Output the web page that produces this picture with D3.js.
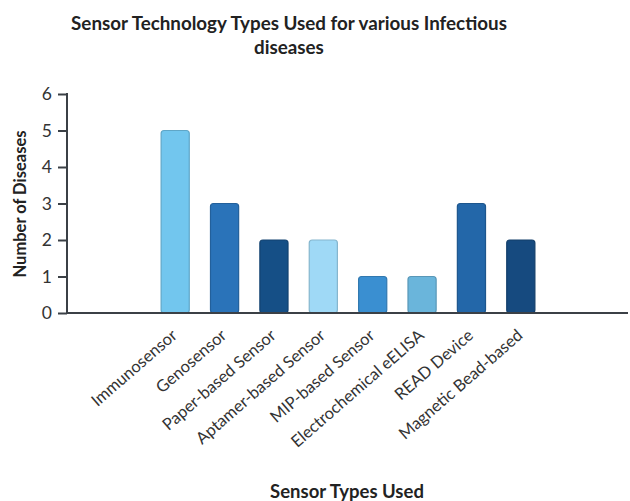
<!DOCTYPE html>
<html><head><meta charset="utf-8">
<script src="https://cdn.jsdelivr.net/npm/d3@7"></script>
<style>body{margin:0;background:#fff}svg{display:block}text{font-family:Lato,"Open Sans",sans-serif}</style>
</head><body><svg id="c" width="630" height="501"></svg>
<script>
const categories = ["Immunosensor","Genosensor","Paper-based Sensor","Aptamer-based Sensor","MIP-based Sensor","Electrochemical eELISA","READ Device","Magnetic Bead-based"];
const values = [5,3,2,2,1,1,3,2];
const colors = ["#72c6ee","#2a73b9","#154f86","#9fd9f6","#3a8fd1","#6ab5db","#2367a9","#164a7f"];
const yTicks = [0,1,2,3,4,5,6];
const titleLines = ["Sensor Technology Types Used for various Infectious","diseases"];
const xTitle = "Sensor Types Used", yTitle = "Number of Diseases";

const svg = d3.select("#c");
const axisColor = "#3b4046";
const y = d3.scaleLinear().domain([0,6]).range([313,94]);
const x = d3.scaleBand().domain(categories).range([150.5,545.5]).paddingInner(0.43).paddingOuter(0.215);

// bars
svg.append("g").selectAll("rect").data(categories).join("rect")
  .attr("x", d=>x(d)).attr("width", x.bandwidth())
  .attr("y", (d,i)=>y(values[i])).attr("height",(d,i)=>y(0)-y(values[i]))
  .attr("rx",3).attr("fill",(d,i)=>colors[i])
  .attr("stroke",(d,i)=>d3.color(colors[i]).darker(0.5)).attr("stroke-width",1.2);

// y axis
const ya = svg.append("g").attr("transform","translate(67,0)")
  .call(d3.axisLeft(y).tickValues(yTicks).tickSize(9).tickPadding(6).tickFormat(d3.format("d")));
ya.select(".domain").attr("stroke",axisColor).attr("stroke-width",2).attr("d","M0,93V313");
ya.selectAll(".tick line").attr("stroke",axisColor).attr("stroke-width",2);
ya.selectAll(".tick text").attr("fill","#333").style("font-size","17.5px").style("font-family","Lato");

// x axis line
svg.append("line").attr("x1",66).attr("x2",628).attr("y1",y(0)).attr("y2",y(0))
  .attr("stroke",axisColor).attr("stroke-width",2);

// x labels
svg.append("g").selectAll("text").data(categories).join("text")
  .attr("transform", d=>`translate(${x(d)+x.bandwidth()/2+3},${y(0)+24}) rotate(-41)`)
  .attr("text-anchor","end")
  .attr("fill","#333").style("font-size","16.5px").text(d=>d);

// titles
svg.append("text").attr("x",289).attr("text-anchor","middle").attr("fill","#222")
  .style("font-size","18.8px").style("font-weight","bold")
  .selectAll("tspan").data(titleLines).join("tspan")
  .attr("x",289).attr("y",(d,i)=>30+i*24).text(d=>d);
svg.append("text").attr("x",347).attr("y",498).attr("text-anchor","middle")
  .attr("fill","#222").style("font-size","18.5px").style("font-weight","bold").text(xTitle);
svg.append("text").attr("transform","translate(26,204) rotate(-90)").attr("text-anchor","middle")
  .attr("fill","#222").style("font-size","16.5px").style("font-weight","bold").text(yTitle);
</script></body></html>
